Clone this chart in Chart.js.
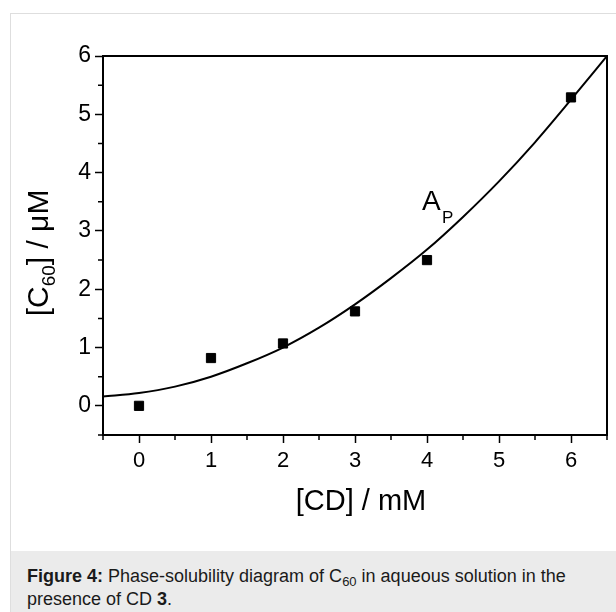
<!DOCTYPE html>
<html>
<head>
<meta charset="utf-8">
<script src="https://cdn.jsdelivr.net/npm/chart.js@4.4.1/dist/chart.umd.min.js"></script>
<style>
  html, body { margin: 0; padding: 0; background: #fff; }
  body { width: 616px; height: 612px; position: relative; overflow: hidden; font-family: "Liberation Sans", Arial, sans-serif; }
  #panel { position: absolute; left: 10px; top: 13px; width: 620px; height: 620px; border: 1px solid #dedede; box-sizing: border-box; }
  #wrap { position: absolute; left: 0; top: 0; width: 616px; height: 550px; }
  #caption { position: absolute; left: 11px; top: 551px; width: 605px; height: 61px; background: #ebebeb;
    box-sizing: border-box; padding: 14px 0 0 16px; font-size: 18px; line-height: 23px; color: #1a1a1a; white-space: nowrap; }
  #caption sub { font-size: 13px; line-height: 0; vertical-align: -4px; }
</style>
</head>
<body>
<div id="panel"></div>
<div id="wrap"><canvas id="chart" width="616" height="550"></canvas></div>
<div id="caption"><b>Figure 4:</b> Phase-solubility diagram of C<sub>60</sub> in aqueous solution in the<br>presence of CD <b>3</b>.</div>
<script>
// measured points
const cdConc = [0, 1, 2, 3, 4, 6];
const c60Conc = [0, 0.82, 1.07, 1.62, 2.50, 5.29];

// fitted curve
const fitX = [-0.5, 0, 0.5, 1, 1.5, 2, 2.5, 3, 3.5, 4, 4.5, 5, 5.5, 6, 6.5];
const fitY = [0.16, 0.22, 0.33, 0.50, 0.73, 1.00, 1.34, 1.74, 2.19, 2.68, 3.24, 3.85, 4.52, 5.25, 6.00];

// tick labels
const xMajor = [0, 1, 2, 3, 4, 5, 6];
const yMajor = [0, 1, 2, 3, 4, 5, 6];

const FONT = '"Liberation Sans", Arial, sans-serif';

// draws text pieces [text, size, shift] one after another
function drawRuns(ctx, runs, x, y) {
    let w = 0;
    runs.forEach(r => { ctx.font = r[1] + 'px ' + FONT; w += ctx.measureText(r[0]).width; });
    let cx = x - w / 2;
    runs.forEach(r => {
        ctx.font = r[1] + 'px ' + FONT;
        ctx.fillText(r[0], cx, y + r[2]);
        cx += ctx.measureText(r[0]).width;
    });
}

// frame on top/right, minor ticks, axis titles and the A_P label
const extras = {
    id: 'extras',
    afterDraw(chart) {
        const ctx = chart.ctx;
        const a = chart.chartArea;
        const xs = chart.scales.x, ys = chart.scales.y;
        ctx.save();
        ctx.strokeStyle = '#000';
        ctx.lineWidth = 2;
        ctx.beginPath();
        ctx.moveTo(a.left, a.top);
        ctx.lineTo(a.right, a.top);
        ctx.lineTo(a.right, a.bottom);
        ctx.stroke();

        // minor ticks
        ctx.lineWidth = 1.5;
        ctx.beginPath();
        xs.ticks.forEach(t => {
            if (xMajor.includes(t.value)) return;
            const px = xs.getPixelForValue(t.value);
            ctx.moveTo(px, a.bottom);
            ctx.lineTo(px, a.bottom + 5);
        });
        ys.ticks.forEach(t => {
            if (yMajor.includes(t.value)) return;
            const py = ys.getPixelForValue(t.value);
            ctx.moveTo(a.left, py);
            ctx.lineTo(a.left - 5, py);
        });
        ctx.stroke();

        ctx.fillStyle = '#000';
        ctx.textBaseline = 'alphabetic';

        // axis titles
        drawRuns(ctx, [['[CD] / mM', 29, 0]], 361, 510);
        ctx.save();
        ctx.translate(48, 253);
        ctx.rotate(-Math.PI / 2);
        drawRuns(ctx, [['[C', 30, 0], ['60', 19, 7], ['] / μM', 30, 0]], 0, 0);
        ctx.restore();

        // curve label
        const lx = xs.getPixelForValue(3.93);
        const ly = ys.getPixelForValue(3.36);
        ctx.font = '28px ' + FONT;
        ctx.fillText('A', lx, ly);
        ctx.font = '17px ' + FONT;
        ctx.fillText('P', lx + 20, ly + 13);
        ctx.restore();
    }
};

const majorColor = (list) => (c) => list.includes(c.tick.value) ? '#000' : 'rgba(0,0,0,0)';

new Chart(document.getElementById('chart').getContext('2d'), {
    type: 'scatter',
    data: {
        datasets: [
            {
                label: 'fit',
                data: fitX.map((x, i) => ({ x: x, y: fitY[i] })),
                showLine: true,
                borderColor: '#000',
                borderWidth: 2,
                pointRadius: 0,
                cubicInterpolationMode: 'monotone',
                fill: false
            },
            {
                label: 'data',
                data: cdConc.map((x, i) => ({ x: x, y: c60Conc[i] })),
                pointStyle: 'rect',
                pointRadius: 6.5,
                pointBorderWidth: 1,
                backgroundColor: '#000',
                borderColor: '#000'
            }
        ]
    },
    options: {
        responsive: false,
        animation: false,
        layout: { padding: { left: 0, top: 56, right: 9, bottom: 0 } },
        plugins: {
            legend: { display: false },
            tooltip: { enabled: false }
        },
        scales: {
            x: {
                type: 'linear',
                min: -0.5,
                max: 6.5,
                afterFit(scale) { scale.height = 115; },
                border: { color: '#000', width: 2 },
                grid: { drawOnChartArea: false, tickLength: 8, tickWidth: 1.5, color: majorColor(xMajor) },
                ticks: {
                    stepSize: 0.5,
                    autoSkip: false,
                    maxRotation: 0,
                    padding: 5,
                    color: '#000',
                    font: { family: FONT, size: 22 },
                    callback: v => xMajor.includes(v) ? String(v) : ''
                },
                title: { display: false }
            },
            y: {
                type: 'linear',
                min: -0.5,
                max: 6,
                afterFit(scale) { scale.width = 103; },
                border: { color: '#000', width: 2 },
                grid: { drawOnChartArea: false, tickLength: 8, tickWidth: 1.5, color: majorColor(yMajor) },
                ticks: {
                    stepSize: 0.5,
                    autoSkip: false,
                    padding: 4,
                    color: '#000',
                    font: { family: FONT, size: 23 },
                    callback: v => yMajor.includes(v) ? String(v) : ''
                },
                title: { display: false }
            }
        }
    },
    plugins: [extras]
});
</script>
</body>
</html>
